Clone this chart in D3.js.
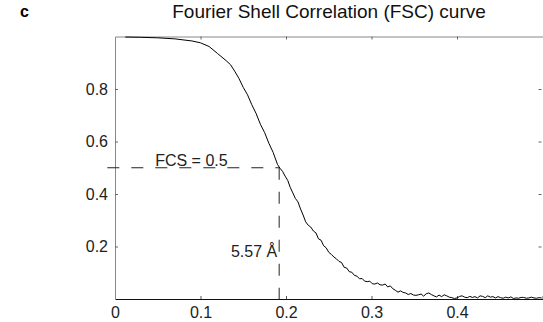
<!DOCTYPE html>
<html>
<head>
<meta charset="utf-8">
<script src="https://cdn.jsdelivr.net/npm/d3@7"></script>
<style>
  body { margin: 0; background: #fff; }
  svg { display: block; font-family: "Liberation Sans", Arial, sans-serif; }
</style>
</head>
<body>
<div id="chart"></div>
<script>
// spatial frequency (1/Å) and FSC value
const freq = [
  0.012, 0.03, 0.05, 0.07, 0.09, 0.10, 0.11, 0.12, 0.13, 0.135,
  0.14, 0.145, 0.15, 0.155, 0.16, 0.165, 0.17, 0.175, 0.18, 0.185,
  0.19, 0.193, 0.196, 0.199, 0.202, 0.205, 0.208, 0.211, 0.214, 0.217,
  0.220, 0.223, 0.226, 0.229, 0.232, 0.235, 0.238, 0.241, 0.244, 0.247,
  0.250, 0.253, 0.256, 0.259, 0.262, 0.265, 0.268, 0.271, 0.274, 0.277,
  0.280, 0.283, 0.286, 0.289, 0.292, 0.295, 0.298, 0.301, 0.304, 0.307,
  0.310, 0.313, 0.316, 0.319, 0.322, 0.325, 0.328, 0.331, 0.334, 0.337,
  0.340, 0.343, 0.346, 0.349, 0.352, 0.355, 0.358, 0.361, 0.364, 0.367,
  0.370, 0.373, 0.376, 0.379, 0.382, 0.385, 0.388, 0.391, 0.394, 0.397,
  0.400, 0.403, 0.406, 0.409, 0.412, 0.415, 0.418, 0.421, 0.424, 0.427,
  0.430, 0.433, 0.436, 0.439, 0.442, 0.445, 0.448, 0.451, 0.454, 0.457,
  0.460, 0.463, 0.466, 0.469, 0.472, 0.475, 0.478, 0.481, 0.484, 0.487,
  0.490, 0.493, 0.496, 0.499
];
const fsc = [
  0.998, 0.997, 0.995, 0.991, 0.983, 0.976, 0.962, 0.935, 0.908, 0.893,
  0.868, 0.840, 0.806, 0.778, 0.740, 0.707, 0.666, 0.634, 0.593, 0.558,
  0.513, 0.498, 0.486, 0.468, 0.452, 0.425, 0.404, 0.383, 0.370, 0.343,
  0.320, 0.294, 0.281, 0.274, 0.259, 0.252, 0.229, 0.224, 0.203, 0.195,
  0.178, 0.170, 0.160, 0.153, 0.143, 0.139, 0.121, 0.118, 0.104, 0.102,
  0.090, 0.087, 0.077, 0.078, 0.068, 0.066, 0.068, 0.058, 0.057, 0.061,
  0.054, 0.053, 0.057, 0.046, 0.050, 0.039, 0.033, 0.026, 0.031, 0.025,
  0.023, 0.017, 0.021, 0.015, 0.014, 0.016, 0.019, 0.011, 0.020, 0.023,
  0.017, 0.012, 0.008, 0.015, 0.009, 0.016, 0.012, 0.007, 0.005, 0.002,
  0.004, 0.010, 0.012, 0.007, 0.005, 0.010, 0.006, 0.009, 0.004, 0.012,
  0.010, 0.005, 0.012, 0.007, 0.009, 0.004, 0.009, 0.005, 0.003, 0.007,
  0.004, 0.008, 0.002, 0.004, 0.003, 0.006, 0.006, 0.003, 0.004, 0.007,
  0.004, 0.003, 0.005, 0.004
];
const xTicks = [0, 0.1, 0.2, 0.3, 0.4, 0.5];
const xLabels = ["0", "0.1", "0.2", "0.3", "0.4", ""];
const yTicks = [0.2, 0.4, 0.6, 0.8];
const threshold = 0.5;
const crossFreq = 0.192;
const resolutionLabel = "5.57 Å";
const thresholdLabel = "FCS = 0.5";

const width = 543, height = 322;
const margin = {top: 36.5, right: 0.5, bottom: 23, left: 115};

const svg = d3.select("#chart").append("svg")
  .attr("width", width)
  .attr("height", height);

const x = d3.scaleLinear().domain([0, 0.5]).range([margin.left, width - margin.right]);
const y = d3.scaleLinear().domain([0, 1]).range([height - margin.bottom, margin.top]);

svg.append("text")
  .attr("x", 20).attr("y", 17)
  .attr("font-size", 16).attr("font-weight", "bold")
  .text("c");

svg.append("text")
  .attr("x", 329).attr("y", 18)
  .attr("text-anchor", "middle")
  .attr("font-size", 19)
  .attr("fill", "#111")
  .text("Fourier Shell Correlation (FSC) curve");

// axes, ticks pointing in
const fmt = d => d3.format(".1f")(d);

const axBottom = svg.append("g")
  .attr("transform", `translate(0,${y(0)})`)
  .call(d3.axisBottom(x).tickValues(xTicks).tickSizeInner(-3).tickSizeOuter(0).tickPadding(8)
    .tickFormat((d, i) => xLabels[i]));
axBottom.select(".domain").attr("stroke", "#111");
axBottom.selectAll("text").attr("font-size", 16).attr("fill", "#222");
axBottom.selectAll(".tick line").attr("stroke", "#555");

const axTop = svg.append("g")
  .attr("transform", `translate(0,${y(1)})`)
  .call(d3.axisTop(x).tickValues(xTicks.slice(1, 5)).tickSizeInner(-3).tickSizeOuter(0).tickFormat(""));
axTop.select(".domain").attr("stroke", "#888");
axTop.selectAll(".tick line").attr("stroke", "#666");

const axLeft = svg.append("g")
  .attr("transform", `translate(${x(0)},0)`)
  .call(d3.axisLeft(y).tickValues(yTicks).tickSizeInner(-3).tickSizeOuter(0).tickPadding(7).tickFormat(fmt));
axLeft.select(".domain").attr("stroke", "#888");
axLeft.selectAll("text").attr("font-size", 16).attr("fill", "#222");
axLeft.selectAll(".tick line").attr("stroke", "#666");

const axRight = svg.append("g")
  .attr("transform", `translate(${x(0.5) - 1},0)`)
  .call(d3.axisRight(y).tickValues(yTicks).tickSizeInner(-3).tickSizeOuter(0).tickFormat(""));
axRight.select(".domain").remove();
axRight.selectAll(".tick line").attr("stroke", "#666");

// threshold guides
svg.append("line")
  .attr("x1", x(-0.009)).attr("x2", x(crossFreq))
  .attr("y1", y(threshold)).attr("y2", y(threshold))
  .attr("stroke", "#222").attr("stroke-width", 1)
  .attr("stroke-dasharray", "12,12");

svg.append("line")
  .attr("x1", x(crossFreq)).attr("x2", x(crossFreq))
  .attr("y1", y(threshold)).attr("y2", y(0))
  .attr("stroke", "#222").attr("stroke-width", 1)
  .attr("stroke-dasharray", "12,12");

svg.append("text")
  .attr("x", x(0.047)).attr("y", y(threshold) - 2)
  .attr("font-size", 16).attr("fill", "#222")
  .text(thresholdLabel);

svg.append("text")
  .attr("x", x(crossFreq) - 2).attr("y", y(0.16))
  .attr("text-anchor", "end")
  .attr("font-size", 16).attr("fill", "#222")
  .text(resolutionLabel);

// FSC curve
const line = d3.line()
  .x((d, i) => x(freq[i]))
  .y(d => y(d));

svg.append("path")
  .datum(fsc)
  .attr("fill", "none")
  .attr("stroke", "#000")
  .attr("stroke-width", 1)
  .attr("d", line);
</script>
</body>
</html>
